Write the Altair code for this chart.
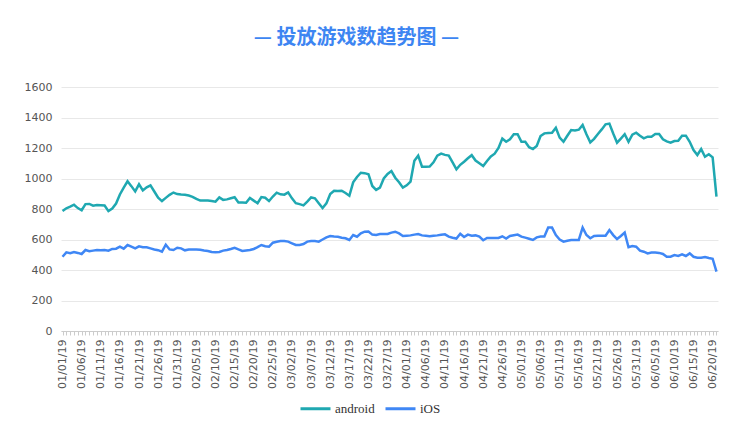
import altair as alt
import pandas as pd

dates = list(pd.date_range("2019-01-01", periods=172).strftime("%m/%d/%y"))

android = [
    787, 805, 815, 828, 806, 792, 832, 833, 822, 826, 825, 823, 786, 803, 836, 895, 940, 982, 950, 915,
    962, 922, 942, 955, 915, 874, 852, 873, 893, 908, 898, 895, 893, 888, 880, 866, 855, 856, 855, 852,
    848, 876, 860, 863, 870, 877, 843, 842, 841, 872, 855, 838, 878, 874, 852, 882, 907, 896, 894, 909,
    870, 838, 832, 824, 848, 876, 870, 838, 807, 837, 898, 920, 918, 920, 905, 887, 975, 1010, 1038, 1035,
    1028, 951, 925, 940, 1000, 1030, 1049, 1005, 975, 940, 955, 980, 1117, 1150, 1077, 1077, 1078, 1106, 1150, 1163,
    1155, 1150, 1106, 1060, 1090, 1110, 1133, 1153, 1118, 1100, 1082, 1115, 1145, 1163, 1200, 1262, 1241, 1257, 1290, 1290,
    1241, 1241, 1205, 1193, 1213, 1278, 1296, 1298, 1300, 1333, 1268, 1241, 1280, 1318, 1315, 1320, 1351, 1290, 1237, 1260,
    1292, 1322, 1355, 1360, 1295, 1235, 1262, 1290, 1241, 1287, 1300, 1280, 1263, 1274, 1274, 1292, 1292, 1257, 1243, 1235,
    1246, 1248, 1281, 1281, 1241, 1187, 1154, 1193, 1143, 1159, 1139, 881,
]

ios = [
    487, 516, 510, 518, 512, 505, 531, 523, 527, 531, 529, 531, 527, 538, 540, 553, 540, 564, 553, 542,
    555, 549, 549, 542, 535, 530, 520, 566, 535, 531, 546, 542, 529, 535, 535, 535, 533, 528, 525, 518,
    516, 518, 527, 531, 538, 546, 535, 525, 528, 531, 538, 550, 564, 556, 553, 579, 585, 590, 590, 586,
    575, 564, 564, 570, 586, 590, 590, 586, 600, 614, 623, 620, 618, 612, 608, 597, 629, 618, 640, 651,
    653, 632, 630, 636, 636, 636, 645, 651, 640, 623, 625, 627, 632, 636, 627, 624, 621, 624, 627, 631,
    634, 619, 612, 606, 638, 616, 632, 625, 627, 619, 595, 610, 610, 610, 610, 621, 606, 623, 628, 632,
    619, 612, 605, 597, 614, 619, 619, 678, 678, 629, 600, 586, 592, 597, 597, 597, 678, 629, 608, 623,
    625, 625, 625, 662, 629, 603, 623, 645, 549, 557, 553, 527, 520, 509, 514, 514, 512, 505, 487, 487,
    498, 492, 503, 492, 509, 487, 481, 481, 485, 479, 474, 389,
]

series_names = ["android", "iOS"]
shown_labels = dates[::5]

rows = []
for d, a, i in zip(dates, android, ios):
    rows.append({"date": d, "series": "android", "value": a})
    rows.append({"date": d, "series": "iOS", "value": i})
df = pd.DataFrame(rows)

label_list = "[" + ",".join("'" + s + "'" for s in shown_labels) + "]"

chart = (
    alt.Chart(df)
    .mark_line(strokeWidth=2.5)
    .encode(
        x=alt.X(
            "date:O",
            sort=dates,
            scale=alt.Scale(type="point", padding=0.4),
            axis=alt.Axis(
                title=None,
                labelAngle=-90,
                labelExpr=f"indexof({label_list}, datum.value) >= 0 ? datum.value : ''",
                labelOverlap=False,
                labelFont="DejaVu Sans",
                labelFontSize=11,
                labelColor="#555555",
                labelPadding=4,
                domainColor="#cccccc",
                tickColor="#cccccc",
                tickSize=4,
                grid=False,
            ),
        ),
        y=alt.Y(
            "value:Q",
            scale=alt.Scale(domain=[0, 1600]),
            axis=alt.Axis(
                title=None,
                values=list(range(0, 1601, 200)),
                format="d",
                domain=False,
                ticks=False,
                gridColor="#e8e8e8",
                labelFont="DejaVu Sans",
                labelFontSize=11,
                labelColor="#555555",
                labelPadding=9,
            ),
        ),
        color=alt.Color(
            "series:N",
            scale=alt.Scale(domain=series_names, range=["#1fa8b1", "#3f87f5"]),
            legend=alt.Legend(
                title=None,
                orient="none",
                legendX=238,
                legendY=305,
                direction="horizontal",
                symbolType="stroke",
                symbolStrokeWidth=3,
                symbolSize=900,
                labelFont="Liberation Serif",
                labelFontSize=13,
                labelColor="#333333",
                columnPadding=4,
                labelOffset=3,
            ),
        ),
    )
    .properties(
        width=657,
        height=244,
        autosize=alt.AutoSizeParams(type="none"),
        padding={"left": 53, "top": 79, "right": 22, "bottom": 100},
        title=alt.Title(
            "—  投放游戏数趋势图  —",
            font="Noto Sans CJK SC",
            fontSize=20,
            fontWeight="bold",
            color="#3d85f2",
            anchor="middle",
            dx=-33,
            offset=33,
        ),
    )
    .configure_view(stroke=None)
)

chart.save("out.html", embed_options={"renderer": "svg", "actions": False})
